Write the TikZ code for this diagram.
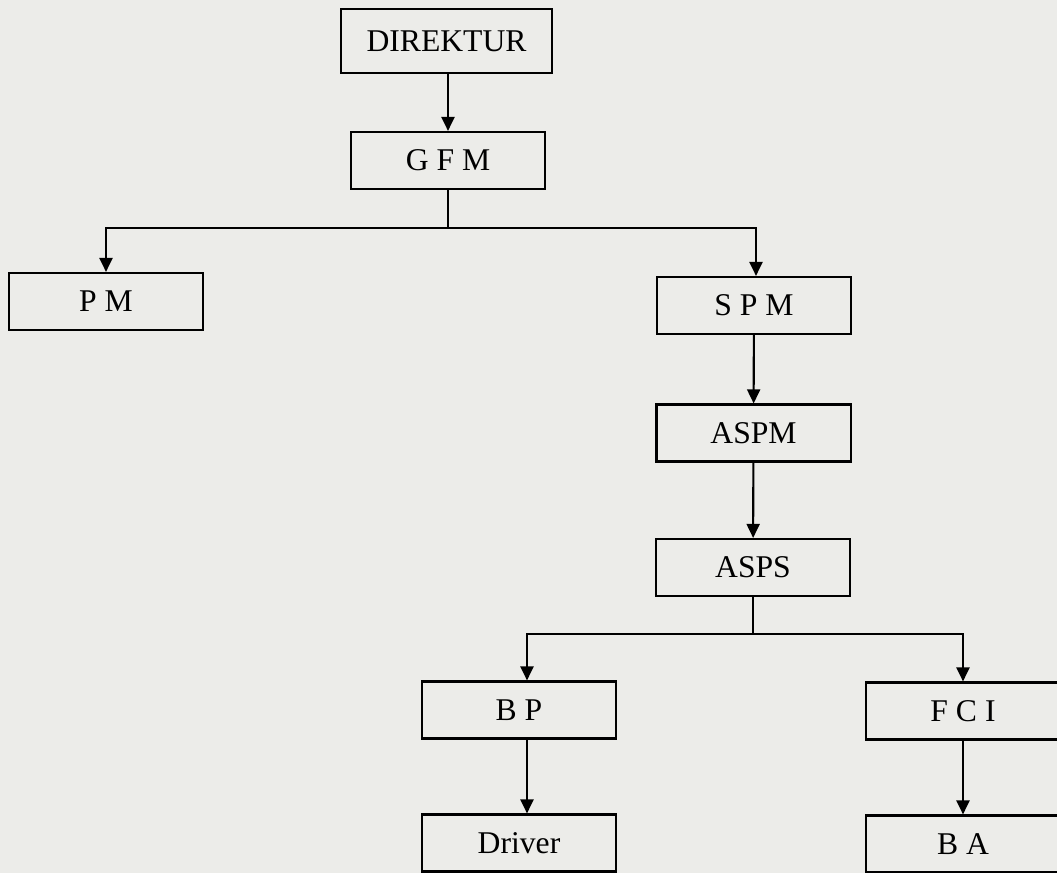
\documentclass[tikz,border=0pt]{standalone}
\usepackage{fontspec}
\setmainfont{Liberation Serif}
\usepackage{tikz}
\usepackage{xcolor}
\usetikzlibrary{arrows.meta}
\definecolor{paper}{RGB}{236,236,233}

\begin{document}
\begin{tikzpicture}[x=0.01cm, y=-0.01cm, line width=0.6pt]
                \fill[paper] (0, 0) rectangle (1057, 873);
                \useasboundingbox (0, 0) rectangle (1057, 873);

                \begin{scope}[every node/.style = {rectangle, draw, inner sep=0pt,
                                minimum width=1.94cm, minimum height=0.57cm,
                                font=\fontsize{9}{11}\selectfont}]
                    \node (DIR)    at (446.5, 41)   [minimum width=2.11cm, minimum height=0.64cm] {DIREKTUR};
                    \node (GFM)    at (448, 160.5)  {G F M};
                    \node (PM)     at (106, 301.5)  {P M};
                    \node (SPM)    at (754, 305.5)  {S P M};
                    \node (ASPM)   at (753.5, 433)  {ASPM};
                    \node (ASPS)   at (753, 567.5)  {ASPS};
                    \node (BP)     at (519, 710)    {B P};
                    \node (FCI)    at (963, 711)    {F C I};
                    \node (Driver) at (519, 843)    {Driver};
                    \node (BA)     at (963, 844)    {B A};
                \end{scope}

                % branch points
                \coordinate (J1) at (448, 228);
                \coordinate (J2) at (753, 634);

                \begin{scope}[>={Triangle[width=0.13cm, length=0.14cm]}]
                     \draw [->] (DIR.south -| GFM) -- (GFM);
                     \draw (GFM) -- (J1);
                     \draw [->] (J1) -| (PM.north);
                     \draw [->] (J1) -| ([xshift=0.02cm]SPM.north);

                     \path [->] (SPM) edge (ASPM);
                     \path [->] (ASPM) edge (ASPS);

                     \draw (ASPS) -- (J2);
                     \draw [->] (J2) -| ([xshift=0.08cm]BP.north);
                     \draw [->] (J2) -| (FCI.north);

                     \draw [->] ([xshift=0.08cm]BP.south) -- ([xshift=0.08cm]Driver.north);
                     \path [->] (FCI) edge (BA);
                \end{scope}
\end{tikzpicture}
\end{document}
